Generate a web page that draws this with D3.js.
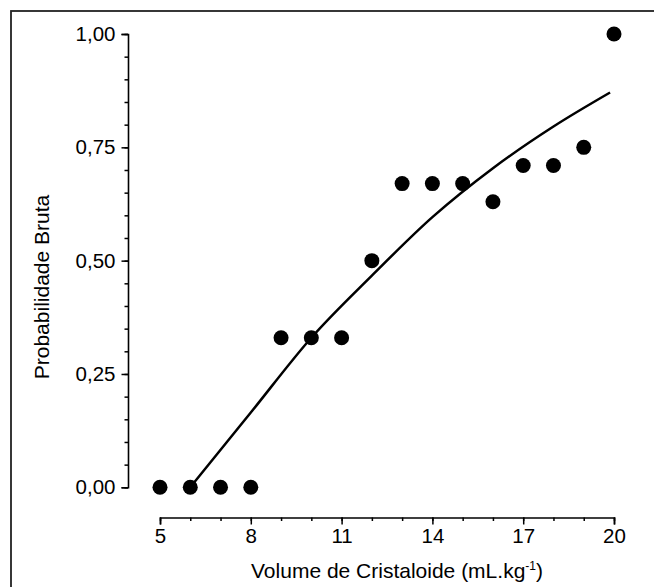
<!DOCTYPE html>
<html>
<head>
<meta charset="utf-8">
<script src="https://cdn.jsdelivr.net/npm/d3@7"></script>
<style>
  body { margin: 0; background: #fff; }
  svg { display: block; font-family: "Liberation Sans", Arial, sans-serif; }
</style>
</head>
<body>
<svg width="654" height="587"></svg>
<script>
// observed points
var volume = [5, 6, 7, 8, 9, 10, 11, 12, 13, 14, 15, 16, 17, 18, 19, 20];
var probabilidade = [0, 0, 0, 0, 0.33, 0.33, 0.33, 0.50, 0.67, 0.67, 0.67, 0.63, 0.71, 0.71, 0.75, 1.00];

// fitted curve
var fitX = [6, 8, 10, 12, 14, 16, 18, 19.87];
var fitY = [0, 0.165, 0.33, 0.467, 0.596, 0.704, 0.796, 0.871];

// tick labels
var xTicks = [5, 8, 11, 14, 17, 20];
var yTicks = [0, 0.25, 0.5, 0.75, 1];

var svg = d3.select('svg');

// outer frame (only left and top edges fall inside the picture)
svg.append('rect')
    .attr('x', 11).attr('y', 11)
    .attr('width', 800).attr('height', 800)
    .attr('fill', 'none')
    .attr('stroke', '#222')
    .attr('stroke-width', 1.8);

var scaleX = d3.scaleLinear().domain([5, 20]).range([160, 614]);
var scaleY = d3.scaleLinear().domain([0, 1]).range([487.3, 34]);

var fmt = function(d){ return d3.format('.2f')(d).replace('.', ','); };

// y axis: major ticks every 0.25, minor every 0.05
var yAxis = svg.append('g').attr('transform', 'translate(128,0)');
yAxis.call(d3.axisLeft(scaleY).tickValues(yTicks).tickFormat(fmt).tickSize(6.5).tickPadding(6));
yAxis.append('g').call(d3.axisLeft(scaleY).tickValues(d3.range(0, 1.0001, 0.05)).tickFormat('').tickSize(3.5))
    .select('.domain').remove();

// x axis: major every 3, minor every 1
var xAxis = svg.append('g').attr('transform', 'translate(0,517.5)');
xAxis.call(d3.axisBottom(scaleX).tickValues(xTicks).tickSize(7).tickPadding(4));
xAxis.append('g').call(d3.axisBottom(scaleX).tickValues(d3.range(5, 21)).tickFormat('').tickSize(3.5))
    .select('.domain').remove();

svg.selectAll('.domain').attr('stroke', '#000').attr('stroke-width', 1.6);
svg.selectAll('.tick line').attr('stroke', '#000').attr('stroke-width', 1.5);
svg.selectAll('.tick text').attr('fill', '#000').style('font-size', '20.5px');

// fitted curve
var line = d3.line()
    .x(function(d, i){ return scaleX(fitX[i]); })
    .y(function(d, i){ return scaleY(fitY[i]); })
    .curve(d3.curveMonotoneX);

svg.append('path')
    .attr('d', line(fitX))
    .attr('fill', 'none')
    .attr('stroke', '#000')
    .attr('stroke-width', 2.5);

// data points
svg.selectAll('.dot')
    .data(volume)
    .enter()
    .append('circle')
    .attr('class', 'dot')
    .attr('cx', function(d){ return scaleX(d); })
    .attr('cy', function(d, i){ return scaleY(probabilidade[i]); })
    .attr('r', 7.5)
    .attr('fill', '#000');

// axis titles
svg.append('text')
    .attr('transform', 'translate(49,287)rotate(270)')
    .style('text-anchor', 'middle')
    .style('font-size', '21px')
    .text('Probabilidade Bruta');

var xt = svg.append('text')
    .attr('transform', 'translate(397,578)')
    .style('text-anchor', 'middle')
    .style('font-size', '21px');
xt.append('tspan').text('Volume de Cristaloide (mL.kg');
xt.append('tspan').attr('dy', -8).style('font-size', '12px').text('-1');
xt.append('tspan').attr('dy', 8).text(')');
</script>
</body>
</html>
